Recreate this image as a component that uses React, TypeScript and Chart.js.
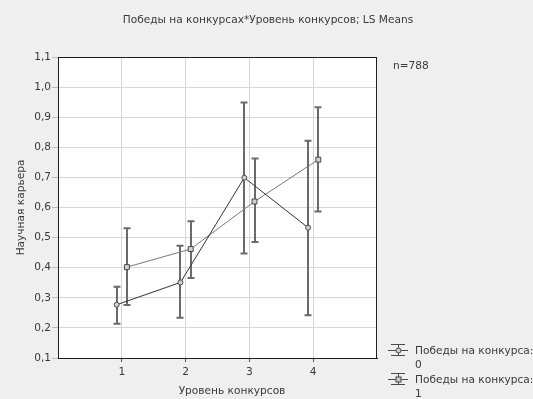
import React, { useEffect, useRef } from "react";
import { Chart, registerables } from "chart.js";

Chart.register(...registerables);

const chartTitle = "Победы на конкурсах*Уровень конкурсов; LS Means";
const yAxisTitle = "Научная карьера";
const xAxisTitle = "Уровень конкурсов";
const noteText = "n=788";
const legendLabel = "Победы на конкурса:";
const groupLabels = ["0", "1"];

const categories = [1, 2, 3, 4];
const groupOffset = [-0.08, 0.08];

const means0 = [0.277, 0.351, 0.699, 0.533];
const upper0 = [0.337, 0.473, 0.949, 0.822];
const lower0 = [0.214, 0.234, 0.447, 0.242];

const means1 = [0.402, 0.462, 0.62, 0.759];
const upper1 = [0.531, 0.554, 0.763, 0.933];
const lower1 = [0.276, 0.366, 0.485, 0.587];

const yTicksMin = 0.1;
const yTicksMax = 1.1;
const xMin = 0;
const xMax = 5;

const FONT = "'DejaVu Sans', sans-serif";
const FS = 10.6;

export default function App() {
  const ref = useRef<HTMLCanvasElement | null>(null);

  useEffect(() => {
    document.body.style.margin = "0";
    document.body.style.background = "#efefef";
    const canvas = ref.current;
    if (!canvas) return;

    const series = [
      { means: means0, upper: upper0, lower: lower0, line: "#333333", marker: "circle" },
      { means: means1, upper: upper1, lower: lower1, line: "#7a7a7a", marker: "rect" },
    ];

    const decor = {
      id: "decor",
      beforeDraw(chart: any) {
        const { ctx, chartArea: a } = chart;
        ctx.save();
        ctx.fillStyle = "#efefef";
        ctx.fillRect(0, 0, chart.width, chart.height);
        ctx.fillStyle = "#ffffff";
        ctx.fillRect(a.left, a.top, a.right - a.left, a.bottom - a.top);
        ctx.restore();
      },
      beforeDatasetsDraw(chart: any) {
        const { ctx, scales } = chart;
        const xs = scales.x;
        const ys = scales.y;
        ctx.save();
        ctx.strokeStyle = "#6a6a6a";
        ctx.lineWidth = 2;
        series.forEach((s, si) => {
          categories.forEach((c, i) => {
            const px = Math.round(xs.getPixelForValue(c + groupOffset[si]));
            const pt = ys.getPixelForValue(s.upper[i]);
            const pb = ys.getPixelForValue(s.lower[i]);
            ctx.beginPath();
            ctx.moveTo(px, pt);
            ctx.lineTo(px, pb);
            ctx.moveTo(px - 3.5, pt);
            ctx.lineTo(px + 3.5, pt);
            ctx.moveTo(px - 3.5, pb);
            ctx.lineTo(px + 3.5, pb);
            ctx.stroke();
          });
        });
        ctx.restore();
      },
      afterDraw(chart: any) {
        const { ctx, chartArea: a } = chart;
        ctx.save();
        // frame
        ctx.strokeStyle = "#1e1e1e";
        ctx.lineWidth = 1;
        ctx.strokeRect(a.left + 0.5, a.top + 0.5, a.right - a.left - 1, a.bottom - a.top);
        ctx.fillStyle = "#3a3a3a";
        ctx.font = `${FS}px ${FONT}`;
        ctx.textBaseline = "middle";
        ctx.textAlign = "center";
        ctx.fillText(chartTitle, 268, 20);
        ctx.fillText(xAxisTitle, 232, 391);
        ctx.textAlign = "left";
        ctx.fillText(noteText, 393, 66);
        ctx.save();
        ctx.translate(21, (a.top + a.bottom) / 2);
        ctx.rotate(-Math.PI / 2);
        ctx.textAlign = "center";
        ctx.fillText(yAxisTitle, 0, 0);
        ctx.restore();

        // legend
        const rows = [350, 379];
        series.forEach((s, si) => {
          const cy = rows[si];
          const cx = 398;
          ctx.strokeStyle = "#4a4a4a";
          ctx.lineWidth = 1;
          ctx.beginPath();
          ctx.moveTo(cx - 7, cy - 5.5);
          ctx.lineTo(cx + 7, cy - 5.5);
          ctx.moveTo(cx - 10, cy + 0.5);
          ctx.lineTo(cx + 10, cy + 0.5);
          ctx.moveTo(cx - 7, cy + 5.5);
          ctx.lineTo(cx + 7, cy + 5.5);
          ctx.moveTo(cx + 0.5, cy - 5);
          ctx.lineTo(cx + 0.5, cy + 5);
          ctx.stroke();
          ctx.fillStyle = "#cccccc";
          ctx.strokeStyle = "#444444";
          if (s.marker === "circle") {
            ctx.beginPath();
            ctx.arc(cx + 0.5, cy + 0.5, 2.5, 0, Math.PI * 2);
            ctx.fill();
            ctx.stroke();
          } else {
            ctx.fillRect(cx - 2, cy - 2, 5, 5);
            ctx.strokeRect(cx - 2, cy - 2, 5, 5);
          }
          ctx.fillStyle = "#3a3a3a";
          ctx.textAlign = "left";
          ctx.fillText(legendLabel, 415, cy + 1);
          ctx.fillText(groupLabels[si], 415, cy + 15);
        });
        ctx.restore();
      },
    };

    const chart = new Chart(canvas, {
      type: "scatter",
      data: {
        datasets: series.map((s, si) => ({
          label: groupLabels[si],
          data: categories.map((c, i) => ({ x: c + groupOffset[si], y: s.means[i] })),
          showLine: true,
          borderColor: s.line,
          borderWidth: 1,
          pointStyle: s.marker as any,
          pointRadius: si === 0 ? 2.5 : 3.5,
          pointBackgroundColor: "#d0d0d0",
          pointBorderColor: "#4a4a4a",
          pointBorderWidth: 1,
        })),
      },
      plugins: [decor],
      options: {
        responsive: false,
        animation: false,
        events: [],
        layout: { padding: { left: 0, top: 57, right: 156, bottom: 0 } },
        plugins: { legend: { display: false }, title: { display: false }, tooltip: { enabled: false } },
        scales: {
          x: {
            type: "linear",
            min: xMin,
            max: xMax,
            afterFit: (s: any) => { s.height = 41; },
            ticks: {
              stepSize: 1,
              autoSkip: false,
              maxRotation: 0,
              padding: 4,
              color: "#3a3a3a",
              font: { family: FONT, size: FS },
              callback: (v: any) => (v >= 1 && v <= 4 ? String(v) : ""),
            },
            grid: {
              color: (c: any) => (c.tick && c.tick.value >= 1 && c.tick.value <= 4 ? "#d6d6d6" : "rgba(0,0,0,0)"),
              tickColor: (c: any) => (c.tick && c.tick.value >= 1 && c.tick.value <= 4 ? "#555555" : "rgba(0,0,0,0)"),
              tickLength: 4,
            },
            border: { display: true, color: "#1e1e1e" },
          },
          y: {
            type: "linear",
            min: yTicksMin,
            max: yTicksMax,
            afterFit: (s: any) => { s.width = 58; },
            ticks: {
              stepSize: 0.1,
              padding: 1,
              color: "#3a3a3a",
              font: { family: FONT, size: FS },
              callback: (v: any) => Number(v).toFixed(1).replace(".", ","),
            },
            grid: { color: "#d6d6d6", tickColor: "#bbbbbb", tickLength: 6 },
            border: { display: true, color: "#1e1e1e" },
          },
        },
      },
    });
    return () => chart.destroy();
  }, []);

  return (
    <div style={{ width: 533, height: 399 }}>
      <canvas ref={ref} width={533} height={399} style={{ display: "block" }} />
    </div>
  );
}
